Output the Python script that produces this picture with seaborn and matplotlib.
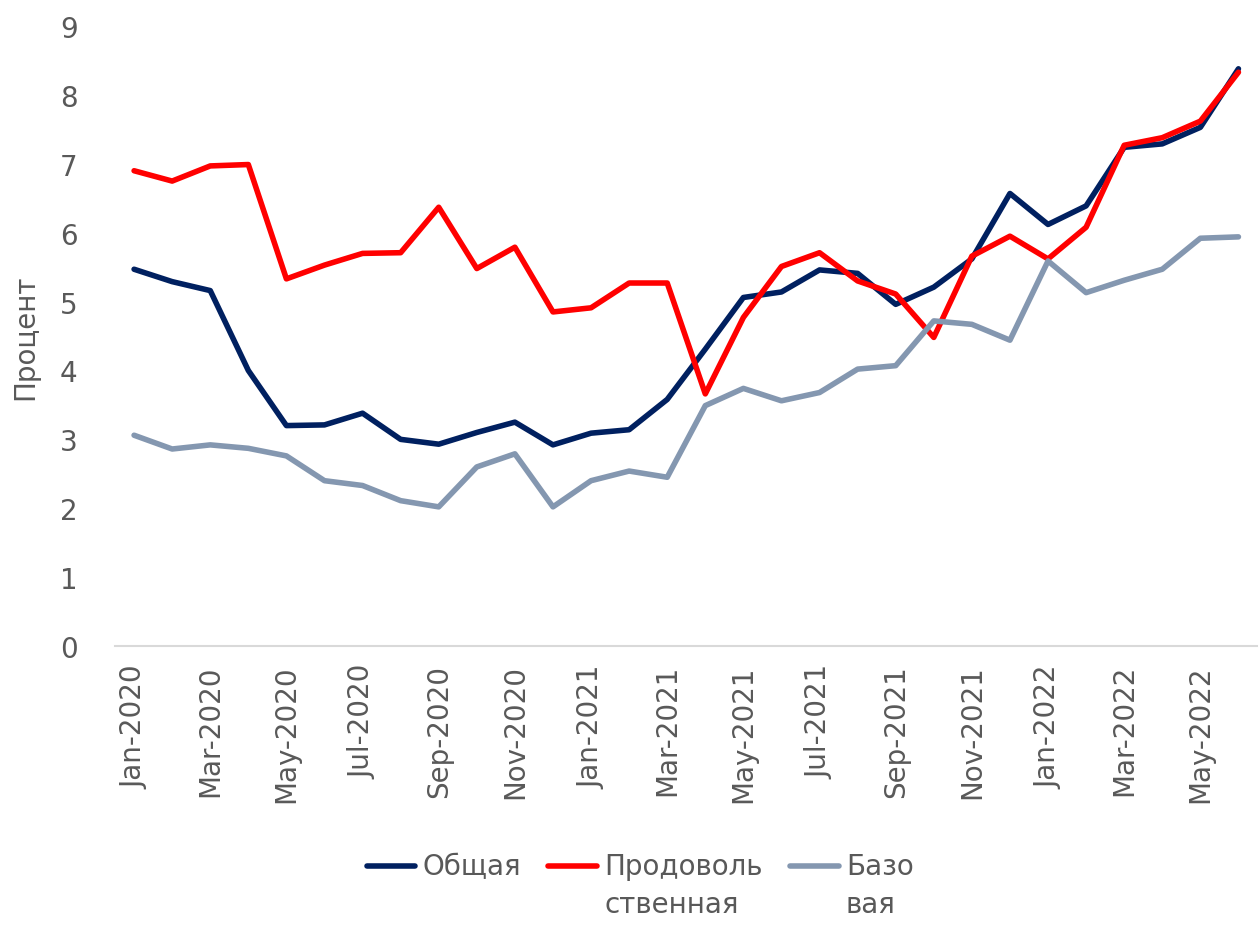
import numpy as np
import pandas as pd
import matplotlib
matplotlib.use("Agg")
import matplotlib.pyplot as plt
from matplotlib.lines import Line2D
import seaborn as sns

months = ["Jan-2020", "Feb-2020", "Mar-2020", "Apr-2020", "May-2020", "Jun-2020",
          "Jul-2020", "Aug-2020", "Sep-2020", "Oct-2020", "Nov-2020", "Dec-2020",
          "Jan-2021", "Feb-2021", "Mar-2021", "Apr-2021", "May-2021", "Jun-2021",
          "Jul-2021", "Aug-2021", "Sep-2021", "Oct-2021", "Nov-2021", "Dec-2021",
          "Jan-2022", "Feb-2022", "Mar-2022", "Apr-2022", "May-2022", "Jun-2022"]

obshaya = [5.47, 5.29, 5.16, 4.00, 3.20, 3.21, 3.38, 3.00, 2.93, 3.10, 3.25, 2.92,
           3.09, 3.14, 3.58, 4.31, 5.06, 5.14, 5.46, 5.41, 4.96, 5.21, 5.62, 6.57,
           6.12, 6.39, 7.24, 7.29, 7.53, 8.38]

prodovol = [6.90, 6.75, 6.97, 6.99, 5.33, 5.53, 5.70, 5.71, 6.37, 5.48, 5.79, 4.85,
            4.91, 5.27, 5.27, 3.66, 4.77, 5.51, 5.71, 5.30, 5.11, 4.48, 5.66, 5.95,
            5.62, 6.08, 7.27, 7.38, 7.62, 8.33]

bazovaya = [3.06, 2.86, 2.92, 2.87, 2.76, 2.40, 2.33, 2.11, 2.02, 2.60, 2.79, 2.02,
            2.40, 2.54, 2.45, 3.49, 3.74, 3.56, 3.68, 4.02, 4.07, 4.72, 4.67, 4.44,
            5.59, 5.13, 5.31, 5.47, 5.92, 5.94]

series_names = ["Общая", "Продовольственная", "Базовая"]
legend_labels = ["Общая\n ", "Продоволь\nственная", "Базо\nвая"]
colors = ["#002060", "#FF0000", "#8497B0"]
y_label = "Процент"

idx = np.arange(len(months))
df = pd.DataFrame({
    "x": np.concatenate([idx, idx, idx]),
    "y": obshaya + prodovol + bazovaya,
    "series": [series_names[0]] * len(idx) + [series_names[1]] * len(idx) + [series_names[2]] * len(idx),
})

sns.set_theme(style="white")
plt.rcParams["font.family"] = ["DejaVu Sans"]

fig = plt.figure(figsize=(12.6, 9.28), dpi=100)
ax = fig.add_axes([0.0913, 0.3028, 0.9067, 0.668])

sns.lineplot(data=df, x="x", y="y", hue="series", hue_order=series_names,
             palette=colors, linewidth=4.0, ax=ax, legend=False)

ax.set_xlim(-0.5, len(months) - 0.5)
ax.set_ylim(0, 9)
ax.set_yticks(range(0, 10))
ax.set_yticklabels([str(v) for v in range(0, 10)], fontsize=20, color="#595959")
ax.tick_params(axis="y", length=0, pad=27)

ax.set_xticks(idx[::2])
ax.set_xticklabels(months[::2], rotation=90, fontsize=20, color="#595959")
ax.set_xticks(np.arange(-0.5, len(months) - 1, 2), minor=True)
ax.tick_params(axis="x", which="major", length=0, pad=13)
ax.tick_params(axis="x", which="minor", length=9.5, width=1.5, color="#D9D9D9", direction="out")

for s in ["top", "right", "left"]:
    ax.spines[s].set_visible(False)
ax.spines["bottom"].set_color("#D9D9D9")
ax.spines["bottom"].set_linewidth(1.5)

ax.set_xlabel("")
ax.set_ylabel(y_label, fontsize=20, color="#595959")
ax.yaxis.set_label_coords(-0.066, 0.5)

handles = [Line2D([0], [0], color=c, lw=4.0) for c in colors]
leg = fig.legend(handles, legend_labels, loc="upper center",
                 bbox_to_anchor=(0.508, 0.108), ncol=3, frameon=False,
                 fontsize=20, handlelength=1.75, handletextpad=0.25,
                 columnspacing=1.0, labelcolor="#595959")
for t in leg.get_texts():
    t.set_linespacing(1.45)
for ln in leg.get_lines():
    ln.set_ydata(np.asarray(ln.get_ydata()) + 14.5)

fig.savefig("out.png", dpi=100)
